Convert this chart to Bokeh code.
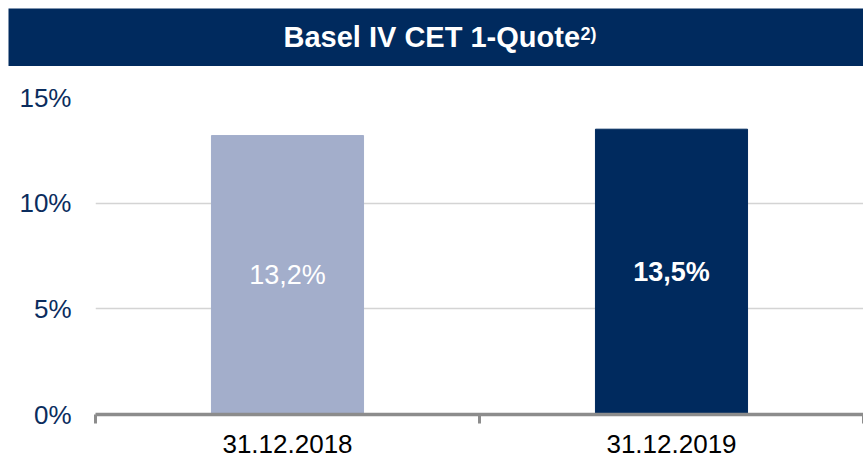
from bokeh.plotting import figure
from bokeh.models import Range1d, FixedTicker, Label, ColumnDataSource, Spacer
from bokeh.layouts import column, row
from bokeh.embed import file_html
from bokeh.resources import INLINE

# ---- data ----
categories = ["31.12.2018", "31.12.2019"]
values = [13.2, 13.5]
value_labels = ["13,2%", "13,5%"]
bar_colors = ["#A3AECB", "#002A5E"]
label_weights = ["normal", "bold"]
y_ticks = [0, 5, 10, 15]
y_tick_labels = ["0%", "5%", "10%", "15%"]
title_main = "Basel IV CET 1-Quote"
title_sup = "2)"

NAVY = "#002A5E"
FONT = "Liberation Sans"

# ---- title band ----
t = figure(width=855, height=58, x_range=Range1d(0, 1), y_range=Range1d(0, 1),
           output_backend="svg", toolbar_location=None,
           min_border=0, background_fill_color=NAVY, border_fill_color=NAVY)
t.outline_line_color = None
t.axis.visible = False
t.grid.visible = False
t.add_layout(Label(x=275, y=30, x_units="screen", y_units="screen", text=title_main,
                   text_align="left", text_baseline="middle", text_color="white",
                   text_font=FONT, text_font_style="bold", text_font_size="29px"))
t.add_layout(Label(x=572, y=33, x_units="screen", y_units="screen", text=title_sup,
                   text_align="left", text_baseline="middle", text_color="white",
                   text_font=FONT, text_font_style="bold", text_font_size="18px"))

# ---- main chart ----
n = len(categories)
xs = [i + 0.5 for i in range(n)]
src = ColumnDataSource(dict(x=xs, top=values, color=bar_colors,
                            ly=[v / 2 for v in values], txt=value_labels,
                            weight=label_weights))

p = figure(width=863, height=392, x_range=Range1d(0, n), y_range=Range1d(0, 15),
           output_backend="svg", toolbar_location=None,
           min_border_left=95, min_border_right=0, min_border_top=31, min_border_bottom=44)
p.outline_line_color = None
p.background_fill_color = "white"

p.vbar(x="x", top="top", bottom=0, width=0.396, color="color", source=src)
p.text(x="x", y="ly", text="txt", text_font_style="weight", source=src,
       text_align="center", text_baseline="middle", text_color="white",
       text_font={"value": FONT}, text_font_size="27px")

# y axis
p.yaxis.ticker = FixedTicker(ticks=y_ticks)
p.yaxis.major_label_overrides = {t_: l for t_, l in zip(y_ticks, y_tick_labels)}
p.yaxis.axis_line_color = None
p.yaxis.major_tick_line_color = None
p.yaxis.minor_tick_line_color = None
p.yaxis.major_label_text_font = FONT
p.yaxis.major_label_text_font_size = "26px"
p.yaxis.major_label_text_color = "#0B2D5E"
p.yaxis.major_label_standoff = 18

p.ygrid.ticker = FixedTicker(ticks=y_ticks)
p.ygrid.grid_line_color = "#D4D4D4"
p.ygrid.grid_line_width = 1.5
p.xgrid.visible = False

# x axis
p.xaxis.ticker = FixedTicker(ticks=xs, minor_ticks=list(range(n + 1)))
p.xaxis.major_label_overrides = {x: c for x, c in zip(xs, categories)}
p.xaxis.axis_line_color = "#8C8C8C"
p.xaxis.axis_line_width = 3.5
p.xaxis.major_tick_line_color = None
p.xaxis.major_tick_out = 0
p.xaxis.major_tick_in = 0
p.xaxis.minor_tick_line_color = "#8C8C8C"
p.xaxis.minor_tick_line_width = 3
p.xaxis.minor_tick_out = 9
p.xaxis.minor_tick_in = 0
p.xaxis.major_label_text_font = FONT
p.xaxis.major_label_text_font_size = "26px"
p.xaxis.major_label_text_color = "black"
p.xaxis.major_label_standoff = 11

layout = column(Spacer(width=863, height=8), row(Spacer(width=8, height=58), t), p, spacing=0)
open("out.html", "w").write(file_html(layout, INLINE))
